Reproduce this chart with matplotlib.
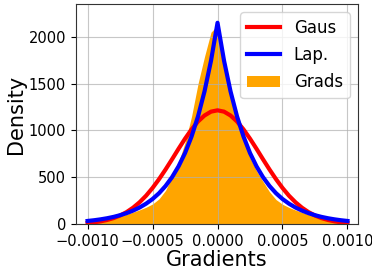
import matplotlib
matplotlib.use("Agg")
import matplotlib.pyplot as plt

# x positions (every 0.00005) where the curves and the histogram outline are read
grid_x = [-0.00100, -0.00095, -0.00090, -0.00085, -0.00080, -0.00075, -0.00070,
          -0.00065, -0.00060, -0.00055, -0.00050, -0.00045, -0.00040, -0.00035,
          -0.00030, -0.00025, -0.00020, -0.00015, -0.00010, -0.00005, 0.0,
          0.00005, 0.00010, 0.00015, 0.00020, 0.00025, 0.00030, 0.00035, 0.00040,
          0.00045, 0.00050, 0.00055, 0.00060, 0.00065, 0.00070, 0.00075, 0.00080,
          0.00085, 0.00090, 0.00095, 0.00100]

# gradient histogram density (fine bins, read as outline)
grad_density = [24, 32, 42, 54, 68, 85, 105, 127, 152, 180, 215,
                270, 360, 505, 660, 870, 1150, 1500, 1790, 2050, 2120,
                1800, 1450, 1150, 900, 710, 570, 455, 345, 262, 212,
                178, 150, 125, 103, 84, 67, 53, 41, 31, 23]

# fitted Gaussian and Laplace densities
gaus_y = [12.3, 19, 29.5, 44, 64, 92, 128, 175, 233, 303, 386,
          480, 583, 692, 804, 912, 1011, 1096, 1160, 1201, 1215,
          1201, 1160, 1096, 1011, 912, 804, 692, 583, 480, 386,
          303, 233, 175, 128, 92, 64, 44, 29.5, 19, 12.3]
lap_y = [33.5, 41.2, 50.8, 62.5, 77, 95, 117, 144, 177, 218, 268,
         330, 407, 501, 617, 759, 935, 1151, 1418, 1746, 2150,
         1746, 1418, 1151, 935, 759, 617, 501, 407, 330, 268,
         218, 177, 144, 117, 95, 77, 62.5, 50.8, 41.2, 33.5]

fig = plt.figure(figsize=(3.72, 2.70), dpi=100)
ax = fig.add_axes([0.204, 0.170, 0.758, 0.815])

ax.plot(grid_x, gaus_y, color='red', lw=3, label='Gaus')
ax.plot(grid_x, lap_y, color='blue', lw=3, label='Lap.')
ax.fill_between(grid_x, 0, grad_density, color='orange', lw=0, label='Grads', zorder=1)

ax.set_xlim(-0.00109, 0.00108)
ax.set_ylim(0, 2350)
ax.set_xticks([-0.001, -0.0005, 0.0, 0.0005, 0.001])
ax.set_yticks([0, 500, 1000, 1500, 2000])
ax.tick_params(labelsize=10.5)
ax.grid(True, color='#b0b0b0', alpha=0.7, lw=0.8)
for s in ax.spines.values():
    s.set_color('#333333')

ax.set_xlabel('Gradients', fontsize=15, labelpad=1)
ax.set_ylabel('Density', fontsize=15, labelpad=2)

ax.legend(loc='upper right', fontsize=12, handlelength=2.0, labelspacing=0.55)

fig.savefig('out.png', dpi=100)
